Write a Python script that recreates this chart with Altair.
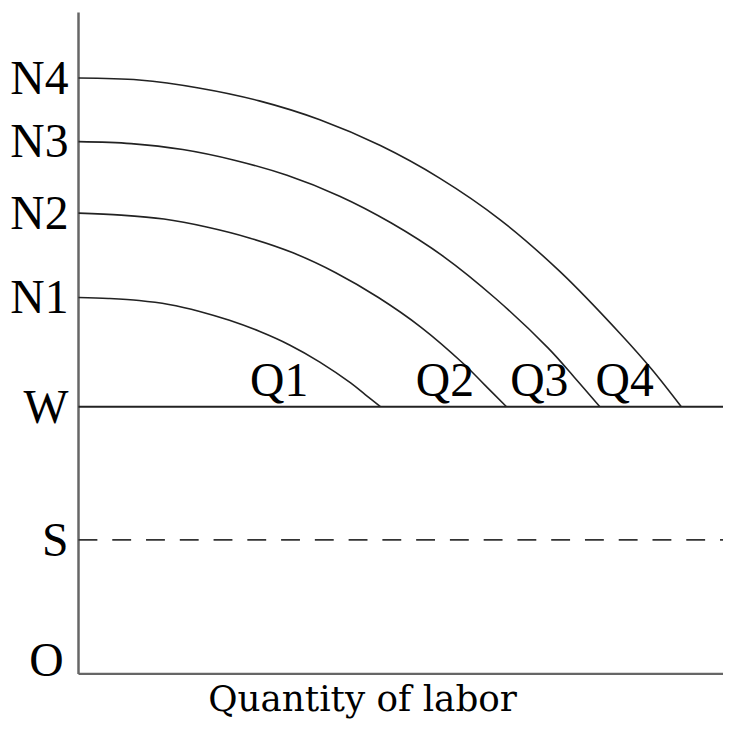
import altair as alt
import pandas as pd

# Level values on the vertical axis
level_names = ["W", "S", "N1", "N2", "N3", "N4"]
level_values = [269, 135, 379, 464, 536, 600]
origin_name = "O"
origin_value = 0

# Curves
n1_x = [0, 30, 61, 91, 122, 152, 182, 213, 243, 274, 289, 304]
n1_y = [379, 378, 376, 372, 365, 356, 345, 331, 314, 293, 281, 269]
n2_x = [0, 43, 86, 129, 172, 216, 259, 302, 345, 388, 409, 431]
n2_y = [464, 462, 458, 450, 439, 424, 404, 379, 349, 312, 291, 269]
n3_x = [0, 53, 105, 158, 210, 263, 315, 368, 420, 473, 499, 525]
n3_y = [536, 534, 528, 517, 502, 481, 454, 420, 378, 328, 299, 269]
n4_x = [0, 61, 121, 182, 243, 304, 364, 425, 486, 546, 577, 607]
n4_y = [600, 598, 590, 577, 558, 532, 499, 457, 404, 342, 307, 269]

q_labels = ["Q1", "Q2", "Q3", "Q4"]
q_label_x = [202, 369, 464, 550]
q_label_y = 280

x_max = 649
y_max = 666
w_level = 269
s_level = 135

title_text = "Quantity of labor"
title_x = 286
title_y = -37

FONT = "Liberation Serif"
TITLE_FONT = "DejaVu Serif"

rows = []
for name, xs_, ys_ in [("N1", n1_x, n1_y), ("N2", n2_x, n2_y), ("N3", n3_x, n3_y), ("N4", n4_x, n4_y)]:
    for i, (a, b) in enumerate(zip(xs_, ys_)):
        rows.append({"series": name, "order": i, "x": a, "y": b})
curves = pd.DataFrame(rows)

xs = alt.Scale(domain=[0, x_max], nice=False, zero=False)
ys = alt.Scale(domain=[0, y_max], nice=False, zero=False)

X = lambda f: alt.X(f, type="quantitative", scale=xs, axis=None)
Y = lambda f: alt.Y(f, type="quantitative", scale=ys, axis=None)

curve = alt.Chart(curves).mark_line(color="#222222", strokeWidth=1.6, interpolate="catmull-rom").encode(
    x=X("x"), y=Y("y"), detail="series:N", order="order:Q"
)

hline = pd.DataFrame({"x": [0], "x2": [x_max], "y": [w_level]})
w_rule = alt.Chart(hline).mark_rule(color="#222222", strokeWidth=1.8).encode(
    x=X("x"), x2="x2", y=Y("y")
)
sline = pd.DataFrame({"x": [0], "x2": [x_max], "y": [s_level]})
s_rule = alt.Chart(sline).mark_rule(color="#333333", strokeWidth=1.8, strokeDash=[19, 15]).encode(
    x=X("x"), x2="x2", y=Y("y")
)

xaxis = pd.DataFrame({"x": [0], "x2": [x_max], "y": [0]})
x_axis = alt.Chart(xaxis).mark_rule(color="#666666", strokeWidth=2.5).encode(
    x=X("x"), x2="x2", y=Y("y")
)
yaxis = pd.DataFrame({"x": [0], "y": [0], "y2": [y_max]})
y_axis = alt.Chart(yaxis).mark_rule(color="#666666", strokeWidth=2.5).encode(
    x=X("x"), y=Y("y"), y2="y2"
)

labs = pd.DataFrame({"x": [0] * len(level_names), "y": level_values, "t": level_names})
lev_text = alt.Chart(labs).mark_text(
    align="right", baseline="alphabetic", dx=-10, dy=16, fontSize=48, font=FONT, color="black"
).encode(x=X("x"), y=Y("y"), text="t:N")

olab = pd.DataFrame({"x": [0], "y": [origin_value], "t": [origin_name]})
o_text = alt.Chart(olab).mark_text(
    align="right", baseline="alphabetic", dx=-15, dy=2, fontSize=48, font=FONT, color="black"
).encode(x=X("x"), y=Y("y"), text="t:N")

qlab = pd.DataFrame({"x": q_label_x, "y": [q_label_y] * len(q_labels), "t": q_labels})
q_text = alt.Chart(qlab).mark_text(
    align="center", baseline="alphabetic", fontSize=48, font=FONT, color="black"
).encode(x=X("x"), y=Y("y"), text="t:N")

tdf = pd.DataFrame({"x": [title_x], "y": [title_y], "t": [title_text]})
t_text = alt.Chart(tdf).mark_text(
    align="center", baseline="alphabetic", fontSize=36, font=TITLE_FONT, color="black"
).encode(x=X("x"), y=Y("y"), text="t:N")

chart = alt.layer(y_axis, x_axis, w_rule, s_rule, curve, lev_text, o_text, q_text, t_text).properties(
    width=x_max, height=y_max,
    autosize=alt.AutoSizeParams(type="none"),
    padding={"left": 71, "top": 2, "right": 0, "bottom": 56},
).configure_view(stroke=None)

chart.save("out.html", embed_options={"renderer": "svg", "actions": False})
